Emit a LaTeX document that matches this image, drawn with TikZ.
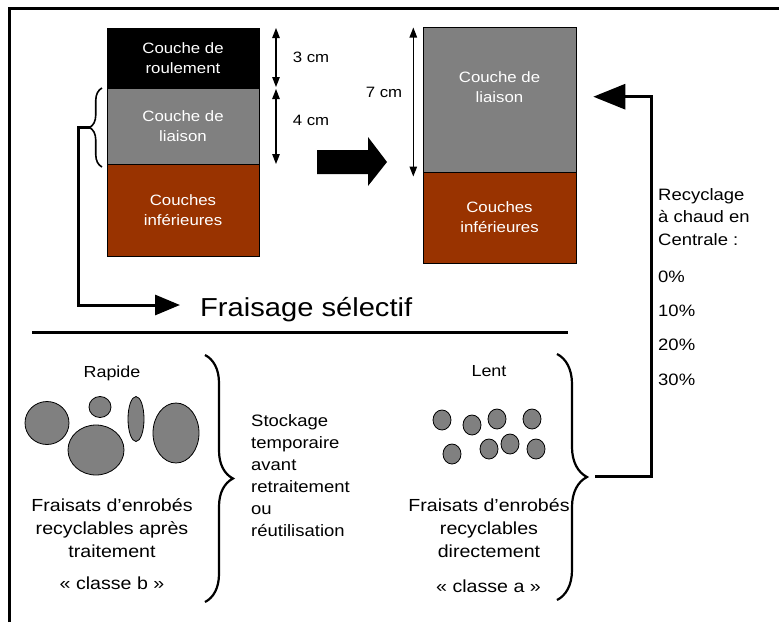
\documentclass[tikz,border=0pt]{standalone}
\usepackage{fontspec}
\setmainfont{Liberation Sans}[FakeStretch=1.12]
\usetikzlibrary{arrows.meta,decorations.pathreplacing}
\definecolor{layergray}{HTML}{808080}
\definecolor{layerbrown}{HTML}{993300}
\begin{document}
\begin{tikzpicture}[x=1pt,y=-1pt,
  layer/.style={draw=black, line width=0.8pt, text=white, align=center, inner sep=0pt,
    font=\fontsize{15}{20}\selectfont},
  ltext/.style={text=white, align=center, inner sep=0pt, font=\fontsize{15}{20}\selectfont},
  dimarrow/.style={line width=1.3pt, {Triangle[width=7.5pt,length=10pt]}-{Triangle[width=7.5pt,length=10pt]}},
  dimlabel/.style={inner sep=0pt, font=\fontsize{15}{18}\selectfont},
  flow/.style={line width=3pt},
  brc/.style={line width=2.2pt, decorate},
  body/.style={inner sep=0pt, align=center, font=\fontsize{17.5}{23}\selectfont},
  side/.style={inner sep=0pt, align=left, font=\fontsize{16.5}{22}\selectfont},
  rec/.style={inner sep=0pt, anchor=west, align=left, font=\fontsize{16.5}{22.5}\selectfont},
  blob/.style={fill=layergray, draw=black, line width=0.8pt}
]
\useasboundingbox (0,0) rectangle (779,622);

% frame (top and left edges)
\draw[line width=3pt] (9,622) -- (9,8) -- (779,8);

% left stack
\node[layer, fill=black, minimum width=152pt, minimum height=60pt] (roul) at (183,58) {Couche de\\roulement};
\node[layer, fill=layergray, minimum width=152pt, minimum height=76pt] (liai) at (183,126) {Couche de\\liaison};
\node[layer, fill=layerbrown, minimum width=152pt, minimum height=92pt] (inf) at (183,210) {Couches\\inférieures};

% dimension arrows (left)
\coordinate (d1) at (276,28);
\coordinate (d2) at (276,87);
\coordinate (d3) at (276,89);
\coordinate (d4) at (276,164);
\draw[dimarrow] (d1) -- (d2);
\draw[dimarrow] (d3) -- (d4);
\node[dimlabel] (l3) at (311,57) {3 cm};
\node[dimlabel] (l4) at (311,120) {4 cm};

% right stack
\node[layer, fill=layergray, minimum width=153pt, minimum height=145pt] (liai2) at (499.5,99.5) {};
\node[ltext] (liai2t) at (499.5,87) {Couche de\\liaison};
\node[layer, fill=layerbrown, minimum width=153pt, minimum height=91pt] (inf2) at (499.5,217.5) {Couches\\inférieures};

\coordinate (e1) at (413.3,27.5);
\coordinate (e2) at (413.3,176.5);
\draw[dimarrow] (e1) -- (e2);
\node[dimlabel] (l7) at (384,92.5) {7 cm};

% big block arrow
\fill (317,150) -- (368,150) -- (368,137) -- (387,162) -- (368,186) -- (368,174) -- (317,174) -- cycle;

% brace on the binder layer and milling arrow
\draw[brc, line width=1.6pt, decoration={brace, amplitude=12.5pt}] (102,167) -- (102,88);
\coordinate (bt) at (89.5,127);
\node[inner sep=0pt, anchor=base west, font=\fontsize{26}{30}\selectfont] (fs) at (200,316.7) {Fraisage sélectif};
\coordinate (fa) at (180,305);
\draw[flow, -{Triangle[width=20pt,length=25pt]}] (bt) -- (78,127) |- (fa);

% separator
\draw[line width=3pt] (32,332) -- (568,332);

% lower left group
\node[body, font=\fontsize{16}{20}\selectfont] (rap) at (112,373) {Rapide};
\draw[blob] (47,423) ellipse [x radius=22, y radius=21.5];
\draw[blob] (100,407) ellipse [x radius=11, y radius=10.5];
\draw[blob] (136,419) ellipse [x radius=8, y radius=22.5];
\draw[blob] (96,450) ellipse [x radius=28, y radius=25];
\draw[blob] (176,433) ellipse [x radius=23, y radius=30];
\node[body] (fb) at (112,528) {Fraisats d’enrobés\\recyclables après\\traitement};
\node[body] (cb) at (112,583) {« classe b »};
\draw[brc, decoration={brace, amplitude=28pt}] (205,355) -- (205,602);

\node[side, anchor=west] (stk) at (251,476) {Stockage\\temporaire\\avant\\retraitement\\ou\\réutilisation};

% lower right group
\node[body, font=\fontsize{16}{20}\selectfont] (lent) at (489,371.5) {Lent};
\foreach \cx/\cy in {442/420, 472/425, 497/419, 532/419, 452/454, 489/449, 510/444, 536/449}
  \draw[blob] (\cx,\cy) ellipse [x radius=9, y radius=10];
\node[body] (fa2) at (489,528) {Fraisats d’enrobés\\recyclables\\directement};
\node[body] (ca) at (488.5,586) {« classe a »};
\draw[brc, decoration={brace, amplitude=30pt}] (557,354) -- (557,600);

% return arrow to hot recycling
\coordinate (bt2) at (595,476);
\coordinate (ra) at (593.3,96.7);
\draw[flow, -{Triangle[width=25pt,length=32pt]}] (bt2) -- (651,476) |- (ra);

\node[rec] (recy) at (658,217) {Recyclage\\à chaud en\\Centrale :};
\node[rec] (p0) at (658,277) {0\%};
\node[rec] (p10) at (658,311) {10\%};
\node[rec] (p20) at (658,345) {20\%};
\node[rec] (p30) at (658,380) {30\%};
\end{tikzpicture}
\end{document}
